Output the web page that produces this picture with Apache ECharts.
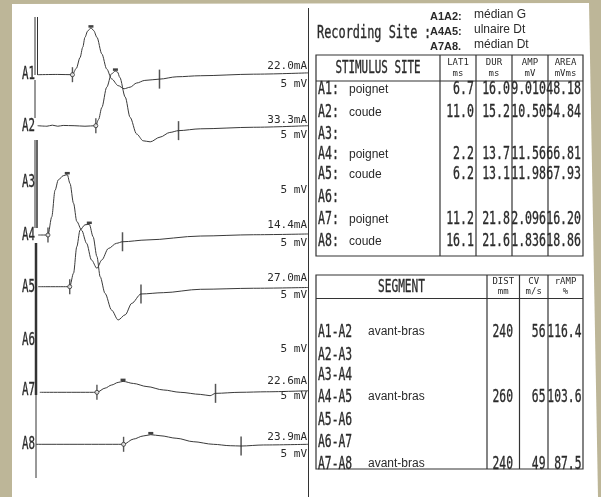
<!DOCTYPE html>
<html><head><meta charset="utf-8">
<script src="https://cdn.jsdelivr.net/npm/echarts@6/dist/echarts.min.js"></script>
<style>html,body{margin:0;padding:0;background:#bdb698;}#c{width:601px;height:497px;}</style>
</head><body><div id="c"></div>
<script>
// ---------- DATA ----------
const channels = ['A1','A2','A3','A4','A5','A6','A7','A8'];
const stimCurrent = ['22.0mA','33.3mA','','14.4mA','27.0mA','','22.6mA','23.9mA'];
const gainLabel = ['5 mV','5 mV','5 mV','5 mV','5 mV','5 mV','5 mV','5 mV'];

// waveforms: [time ms, amplitude mV]
const waveA1 = [[0.3,0],[4,0.05],[6.7,0],[7.4,1.2],[8.1,3.3],[8.6,5.3],[9.0,7.2],[9.5,8.4],[10.1,9.0],[10.6,8.5],[11.2,7.2],[12.1,4.0],[13.0,1.1],[13.9,-0.8],[15.1,-2.1],[16.2,-2.7],[17.3,-2.4],[18.5,-1.6],[20.0,-1.1],[22.7,-0.85],[25.9,-0.4],[30.2,-0.2],[40,0.1],[50,0.35]];
const waveA2 = [[0.3,0],[2,-0.1],[3,0.1],[4,-0.1],[5,0.05],[7,0],[9,-0.1],[11.0,0],[11.5,1.2],[12.1,3.5],[13.0,7.4],[13.9,10.0],[14.6,10.5],[15.0,10.3],[15.4,9.3],[16.4,5.5],[17.3,1.6],[18.5,-1.6],[19.7,-2.9],[21.0,-3.1],[22.8,-2.2],[24.6,-1.3],[26.2,-0.95],[30.2,-0.6],[40,-0.3],[50,0]];
const waveA4 = [[0.4,0],[2.2,0],[2.9,3.5],[3.5,8.6],[4.1,10.6],[5.0,11.4],[5.75,11.6],[6.25,9.9],[6.9,6.1],[7.5,2.6],[8.4,0.9],[9.3,-1.6],[10.2,-4.8],[11.2,-6.4],[12.1,-4.8],[13.3,-2.6],[14.8,-1.6],[15.9,-1.3],[20.4,-0.95],[30.2,-0.2],[40,0.05],[50,0.2]];
const waveA5 = [[0.4,0],[6.2,0],[6.9,2.6],[7.5,7.7],[8.1,10.9],[9.0,11.9],[9.8,12.0],[10.5,9.6],[11.2,5.8],[11.8,1.9],[12.7,-1.3],[13.9,-4.5],[15.1,-6.4],[16.4,-5.4],[17.6,-3.2],[19.3,-1.4],[23.4,-1.15],[30.2,-0.5],[40,-0.3],[50,-0.15]];
const waveA7 = [[0.7,0],[11.2,0],[12.7,0.8],[13.9,1.4],[15.1,1.9],[16.0,2.1],[17.9,1.7],[20.4,1.1],[23.4,0.45],[26.5,0],[30.2,-0.4],[32.0,-0.65],[33.0,-0.2],[37.5,0],[42.4,0.1],[50,0.3]];
const waveA8 = [[0,0],[16.1,0],[17.9,1.0],[19.7,1.6],[21.1,1.85],[22.8,1.65],[25.9,1.15],[28.9,0.5],[32.6,0],[35.7,-0.27],[37.7,-0.33],[41.8,-0.13],[50,0]];

const recGroups = ['A1A2:','A4A5:','A7A8.'];
const recNerves = ['médian G','ulnaire Dt','médian Dt'];

const stimHeader = [['LAT1','ms'],['DUR','ms'],['AMP','mV'],['AREA','mVms']];
const stimSites = ['A1:','A2:','A3:','A4:','A5:','A6:','A7:','A8:'];
const stimNames = ['poignet','coude','','poignet','coude','','poignet','coude'];
const lat1 = [6.7, 11.0, null, 2.2, 6.2, null, 11.2, 16.1];
const dur  = [16.0, 15.2, null, 13.7, 13.1, null, 21.8, 21.6];
const amp  = ['9.010','10.50','','11.56','11.98','','2.096','1.836'];
const area = ['48.18','54.84','','66.81','67.93','','16.20','18.86'];

const segHeader = [['DIST','mm'],['CV','m/s'],['rAMP','%']];
const segments = ['A1-A2','A2-A3','A3-A4','A4-A5','A5-A6','A6-A7','A7-A8'];
const segNames = ['avant-bras','','','avant-bras','','','avant-bras'];
const dist = ['240','','','260','','','240'];
const cv   = ['56','','','65','','','49'];
const rAmp = ['116.4','','','103.6','','','87.5'];

// ---------- LAYOUT ----------
const waveByCh = {A1:waveA1, A2:waveA2, A4:waveA4, A5:waveA5, A7:waveA7, A8:waveA8};
const baseY  = [74.7, 125.7, 182, 235, 286.7, 340, 392.3, 444.3];
const chLabY = [74, 126.5, 182, 235, 287, 340, 390, 444];
const maLabY = [66.5, 120, null, 225.5, 278, null, 381, 437];
const mvLabY = [84, 135.5, 190.5, 243, 295.5, 349, 396, 454];
const PX = 5.2, YMIN = -8, YMAX = 12;
const PLOT = '"DejaVu Sans Mono", monospace';
const SANS = '"Liberation Sans", Arial, sans-serif';
const INK = '#2a2a2a';

function interp(w, t) {
  for (let k = 0; k < w.length - 1; k++) {
    const a = w[k], b = w[k+1];
    if (t >= a[0] && t <= b[0]) return a[1] + (b[1]-a[1])*(t-a[0])/(b[0]-a[0]);
  }
  return 0;
}

const grids = [], xAxes = [], yAxes = [], series = [];
channels.forEach((ch, i) => {
  const w = waveByCh[ch];
  if (!w) return;
  const gi = grids.length;
  grids.push({left: 36, width: 272, top: baseY[i] - YMAX*PX, height: (YMAX-YMIN)*PX, show: false});
  xAxes.push({type: 'value', gridIndex: gi, min: 0, max: 50, show: false});
  yAxes.push({type: 'value', gridIndex: gi, min: YMIN, max: YMAX, show: false});
  const common = {xAxisIndex: gi, yAxisIndex: gi, silent: true, z: 4};
  series.push(Object.assign({type: 'line', data: w, symbol: 'none', smooth: 0.3, smoothMonotone: 'x',
    lineStyle: {color: '#3a3a3a', width: 1}}, common, {z: 3}));
  const on = lat1[i], off = lat1[i] + dur[i];
  const peak = w.reduce((a, b) => b[1] > a[1] ? b : a);
  series.push(Object.assign({type: 'scatter', data: [[on, interp(w, on)]], symbol: 'rect', symbolSize: [1.4, 15], itemStyle: {color: INK}}, common));
  series.push(Object.assign({type: 'scatter', data: [[on, interp(w, on)]], symbol: 'circle', symbolSize: 4, itemStyle: {color: '#fff', borderColor: INK, borderWidth: 1}}, common));
  series.push(Object.assign({type: 'scatter', data: [[off, interp(w, off)]], symbol: 'rect', symbolSize: [1.5, 19], itemStyle: {color: INK}}, common));
  series.push(Object.assign({type: 'scatter', data: [peak], symbol: 'rect', symbolSize: [5, 2.5], symbolOffset: [0, -1.5], itemStyle: {color: '#111'}}, common));
});

// ---------- GRAPHIC ----------
const g = [];
function txt(x, y, text, font, align, sx, heavy) {
  const style = {text: text, font: font, fill: INK, textAlign: align || 'left', textVerticalAlign: 'middle'};
  if (heavy) { style.stroke = INK; style.lineWidth = 0.35; }
  g.push({type: 'text', x: x, y: y, scaleX: sx || 1, z: 6, silent: true, style: style});
}
function line(x1, y1, x2, y2, w) {
  g.push({type: 'line', z: 5, silent: true, shape: {x1: x1, y1: y1, x2: x2, y2: y2}, style: {stroke: '#333', lineWidth: w || 1}});
}
// page
g.push({type: 'polygon', z: 0, silent: true, shape: {points: [[12,4],[589,3],[598,497],[12,497]]}, style: {fill: '#ffffff'}});
// stimulus/left line
line(35, 17, 35, 75, 1); line(37.5, 17, 37.5, 75, 1);
line(35, 80, 35, 118, 1);
line(35, 140, 35, 228, 1); line(37, 140, 37, 228, 1.5);
line(36, 243, 36, 395, 2.5);
line(36, 395, 36, 478, 1);
// right border of trace panel
line(308.5, 8, 308.5, 497, 1);

channels.forEach((ch, i) => {
  txt(35, chLabY[i], ch, '18px ' + PLOT, 'right', 0.6, true);
  if (stimCurrent[i]) txt(307, maLabY[i], stimCurrent[i], '11px ' + PLOT, 'right');
  txt(307, mvLabY[i], gainLabel[i], '11px ' + PLOT, 'right');
});

// Recording site
txt(317, 34, 'Recording Site', '17px ' + PLOT, 'left', 0.7, true);
txt(424, 34, ':', '17px ' + PLOT, 'left', 0.7, true);
recGroups.forEach((r, k) => {
  txt(430, 17 + 15*k, r, 'bold 11px ' + SANS, 'left');
  txt(474, 15 + 15*k, recNerves[k], '12px ' + SANS, 'left');
});

// Table 1
const T1 = {x0: 316, x1: 583, y0: 55, yH: 81, y1: 256, cols: [440, 476, 512, 548], rowY: [90, 112.5, 135, 155, 175, 198, 220, 242]};
g.push({type: 'rect', z: 5, silent: true, shape: {x: T1.x0, y: T1.y0, width: T1.x1-T1.x0, height: T1.y1-T1.y0}, style: {fill: 'none', stroke: '#333', lineWidth: 1.2}});
line(T1.x0, T1.yH, T1.x1, T1.yH, 1.2);
T1.cols.forEach(c => line(c, T1.y0, c, T1.y1, 1.2));
txt((T1.x0 + T1.cols[0])/2, 69, 'STIMULUS SITE', '17px ' + PLOT, 'center', 0.64, true);
const t1Edges = T1.cols.concat([T1.x1]);
stimHeader.forEach((h, k) => {
  const cx = (t1Edges[k] + t1Edges[k+1]) / 2;
  txt(cx, 63, h[0], '9px ' + PLOT, 'center');
  txt(cx, 74, h[1], '9px ' + PLOT, 'center');
});
stimSites.forEach((s, r) => {
  const y = T1.rowY[r];
  txt(318, y, s, '17px ' + PLOT, 'left', 0.68, true);
  if (stimNames[r]) txt(349, y, stimNames[r], '12px ' + SANS, 'left');
  const vals = [lat1[r] == null ? '' : lat1[r].toFixed(1), dur[r] == null ? '' : dur[r].toFixed(1), amp[r], area[r]];
  vals.forEach((v, k) => { if (v) txt(t1Edges[k+1] - 2, y, v, '17px ' + PLOT, 'right', 0.68, true); });
});

// Table 2
const T2 = {x0: 316, x1: 583, y0: 275, yH: 298.5, y1: 469, cols: [487, 519.5, 548], rowY: [332, 355, 375, 397, 420, 442, 464]};
g.push({type: 'rect', z: 5, silent: true, shape: {x: T2.x0, y: T2.y0, width: T2.x1-T2.x0, height: T2.y1-T2.y0}, style: {fill: 'none', stroke: '#333', lineWidth: 1.2}});
line(T2.x0, T2.yH, T2.x1, T2.yH, 1.2);
T2.cols.forEach(c => line(c, T2.y0, c, T2.y1, 1.2));
txt((T2.x0 + T2.cols[0])/2, 287, 'SEGMENT', '18px ' + PLOT, 'center', 0.62, true);
const t2Edges = T2.cols.concat([T2.x1]);
segHeader.forEach((h, k) => {
  const cx = (t2Edges[k] + t2Edges[k+1]) / 2;
  txt(cx, 282, h[0], '9px ' + PLOT, 'center');
  txt(cx, 292, h[1], '9px ' + PLOT, 'center');
});
const t2Right = [513, 545.5, 581.5];
segments.forEach((s, r) => {
  const y = T2.rowY[r];
  txt(318, y, s, '18px ' + PLOT, 'left', 0.63, true);
  if (segNames[r]) txt(368, y, segNames[r], '12px ' + SANS, 'left');
  [dist[r], cv[r], rAmp[r]].forEach((v, k) => { if (v) txt(t2Right[k], y, v, '18px ' + PLOT, 'right', 0.63, true); });
});

const chart = echarts.init(document.getElementById('c'), null, {renderer: 'canvas'});
chart.setOption({
  animation: false,
  backgroundColor: '#bdb698',
  grid: grids, xAxis: xAxes, yAxis: yAxes, series: series,
  graphic: {elements: g}
});
</script></body></html>
